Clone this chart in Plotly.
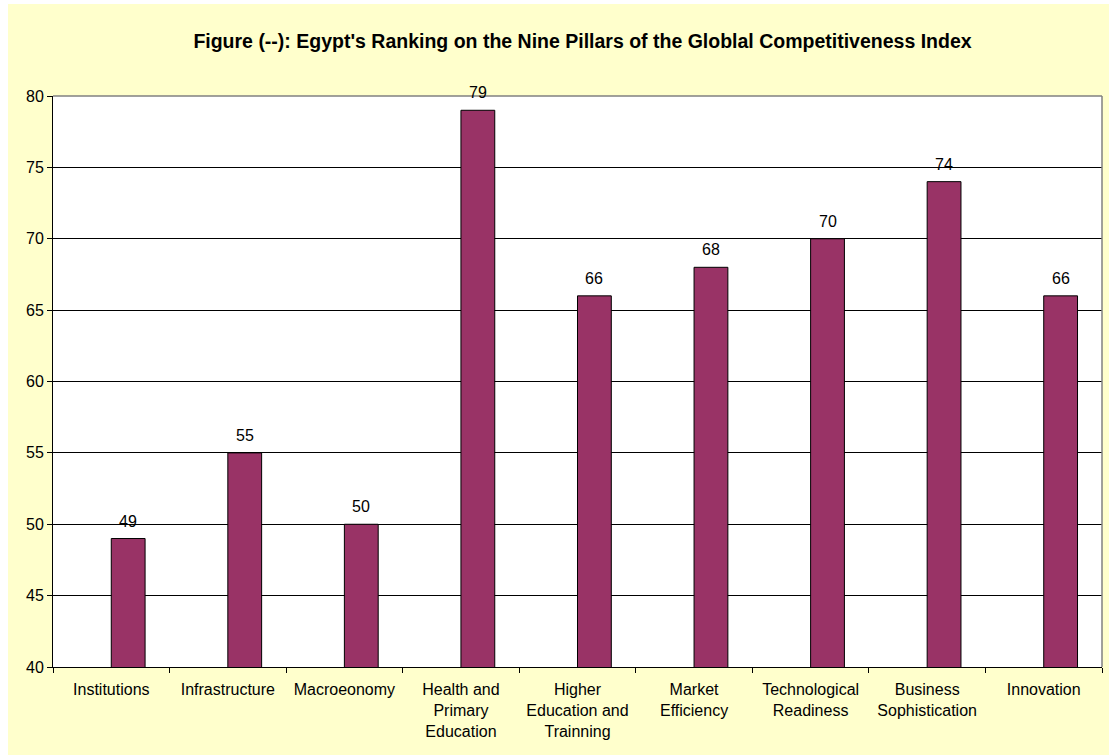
import plotly.graph_objects as go

# Egypt's ranking on the nine GCI pillars
pillars = [
    "Institutions",
    "Infrastructure",
    "Macroeonomy",
    "Health and<br>Primary<br>Education",
    "Higher<br>Education and<br>Trainning",
    "Market<br>Efficiency",
    "Technological<br>Readiness",
    "Business<br>Sophistication",
    "Innovation",
]
ranks = [49, 55, 50, 79, 66, 68, 70, 74, 66]

y_ticks = [40, 45, 50, 55, 60, 65, 70, 75, 80]

FONT = "Arial, 'Liberation Sans', sans-serif"
W, H = 1109, 755
L, R, T, B = 53, 7, 96, 88
pw, ph = W - L - R, H - T - B
BAR_W = 0.29


def px_x(p):
    return (p - L) / pw


def px_y(p):
    return (H - B - p) / ph


fig = go.Figure()
fig.add_trace(go.Bar(
    x=pillars,
    y=ranks,
    width=BAR_W,
    offset=0,
    marker=dict(color="#993366", line=dict(color="#000000", width=1)),
    cliponaxis=False,
))

# value labels above each bar
annotations = [
    dict(x=i, y=v, xref="x", yref="y", text=str(v), showarrow=False,
         xshift=BAR_W / 2 * pw / len(pillars), yshift=7, yanchor="bottom",
         font=dict(family=FONT, size=16, color="#000000"))
    for i, v in enumerate(ranks)
]

shapes = [
    # chart area fill
    dict(type="rect", xref="paper", yref="paper", layer="below",
         x0=px_x(8), x1=px_x(W + 2), y0=px_y(H + 2), y1=px_y(4),
         fillcolor="#FFFFCC", line=dict(width=0)),
    # plot area fill
    dict(type="rect", xref="paper", yref="paper", layer="below",
         x0=0, x1=1, y0=0, y1=1, fillcolor="#FFFFFF", line=dict(width=0)),
    # plot area border (top/right)
    dict(type="line", xref="paper", yref="paper", x0=0, x1=1, y0=1, y1=1,
         line=dict(color="#808080", width=1.5)),
    dict(type="line", xref="paper", yref="paper", x0=1, x1=1, y0=0, y1=1,
         line=dict(color="#808080", width=1.5)),
]

fig.update_layout(
    width=W, height=H,
    margin=dict(l=L, r=R, t=T, b=B, pad=0),
    paper_bgcolor="#FFFFFF",
    plot_bgcolor="rgba(0,0,0,0)",
    showlegend=False,
    shapes=shapes,
    annotations=annotations,
    font=dict(family=FONT, size=16, color="#000000"),
    title=dict(
        text="<b>Figure (--): Egypt's Ranking on the Nine Pillars of the Globlal Competitiveness Index</b>",
        x=582.5 / W, xanchor="center",
        y=1 - 41 / H, yanchor="middle",
        font=dict(family=FONT, size=19.5, color="#000000"),
    ),
    xaxis=dict(
        showgrid=False, showline=True, linecolor="#000000", linewidth=1,
        ticks="outside", tickson="boundaries", ticklen=5, tickcolor="#000000",
        tickfont=dict(family=FONT, size=16), ticklabelstandoff=8,
        fixedrange=True,
    ),
    yaxis=dict(
        range=[40, 80], tickvals=y_ticks, showgrid=True, gridcolor="#000000",
        gridwidth=1, showline=True, linecolor="#000000", linewidth=1,
        ticks="outside", ticklen=5, tickcolor="#000000", zeroline=False,
        tickfont=dict(family=FONT, size=16), fixedrange=True,
    ),
)

fig.write_html("out.html")
